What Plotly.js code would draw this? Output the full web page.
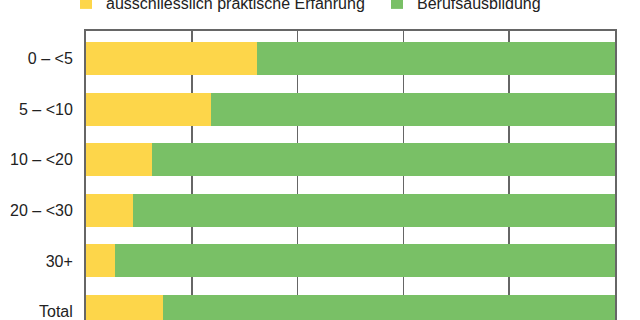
<!DOCTYPE html>
<html>
<head>
<meta charset="utf-8">
<script src="https://cdn.plot.ly/plotly-3.0.1.min.js"></script>
<style>
html,body{margin:0;padding:0;overflow:hidden;background:#fff;width:640px;height:320px;}
#chart{width:640px;height:380px;}
</style>
</head>
<body>
<div id="chart"></div>
<script>
// Data (percent shares per category)
var categories = ["0 – <5", "5 – <10", "10 – <20", "20 – <30", "30+", "Total"];
var seriesNames = ["ausschliesslich praktische Erfahrung", "Berufsausbildung"];
var praktisch = [32.3, 23.6, 12.4, 8.8, 5.5, 14.5];
var ausbildung = [67.7, 76.4, 87.6, 91.2, 94.5, 85.5];
var xTicks = [0, 20, 40, 60, 80, 100];

var traces = [
  {type: "bar", orientation: "h", name: seriesNames[0], y: categories, x: praktisch,
   legend: "legend", marker: {color: "#FDD64A", line: {width: 0}}},
  {type: "bar", orientation: "h", name: seriesNames[1], y: categories, x: ausbildung,
   legend: "legend2", marker: {color: "#79C066", line: {width: 0}}}
];

var legendBase = {
  orientation: "h", yanchor: "middle", y: 1.0909, xanchor: "left",
  font: {size: 16, color: "#222"}, bgcolor: "rgba(0,0,0,0)"
};

var layout = {
  width: 640, height: 380,
  margin: {l: 86, r: 25, t: 31, b: 41, autoexpand: false},
  barmode: "stack",
  bargap: 0.35,
  paper_bgcolor: "#ffffff",
  plot_bgcolor: "#ffffff",
  font: {family: "Liberation Sans, Arial, sans-serif", size: 16, color: "#222"},
  xaxis: {
    range: [0, 100], tickvals: xTicks, showticklabels: false,
    showgrid: true, gridcolor: "#666666", gridwidth: 1.5,
    showline: true, linecolor: "#666666", linewidth: 2, mirror: true,
    zeroline: false, ticks: "", fixedrange: true
  },
  yaxis: {
    type: "category", range: [5.543, -0.543],
    showgrid: false, showline: true, linecolor: "#666666", linewidth: 2, mirror: true,
    ticks: "", ticklabelstandoff: 8, zeroline: false,
    tickfont: {size: 16, color: "#222"}
  },
  showlegend: true,
  legend: Object.assign({}, legendBase, {x: -0.0378}),
  legend2: Object.assign({}, legendBase, {x: 0.5501})
};

Plotly.newPlot("chart", traces, layout, {staticPlot: true, displayModeBar: false});
</script>
</body>
</html>
